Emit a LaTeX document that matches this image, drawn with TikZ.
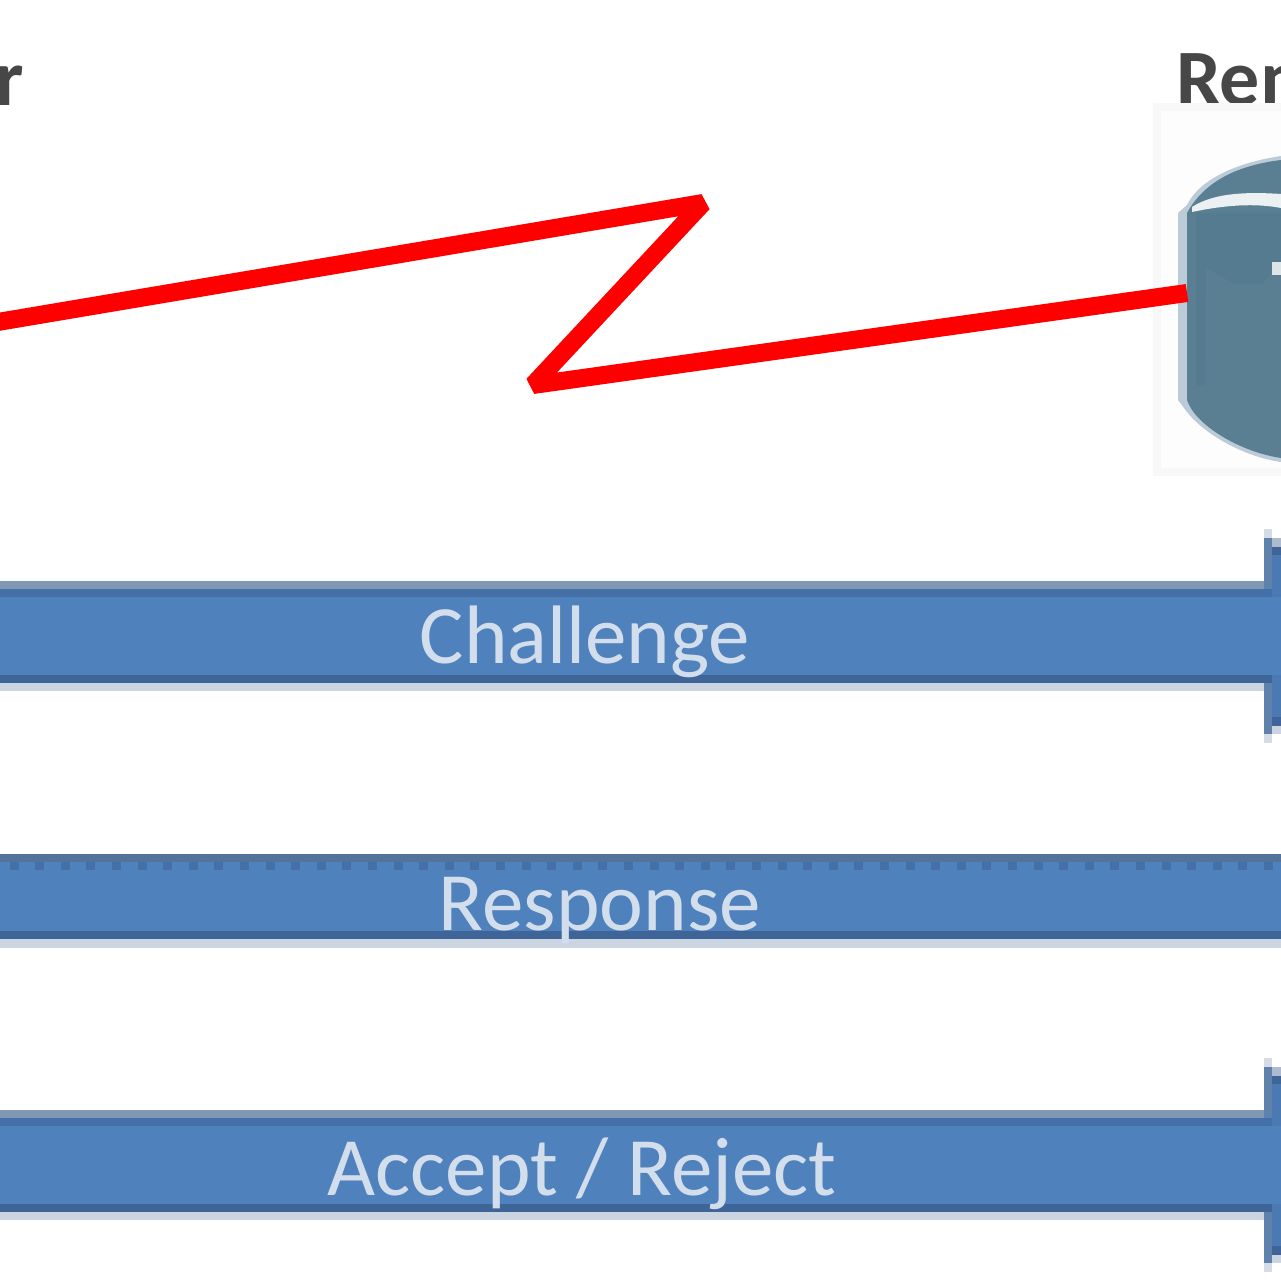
\documentclass[tikz,border=0pt]{standalone}
\usepackage{fontspec}
\setmainfont{Carlito}
\definecolor{barfill}{HTML}{4F81BD}
\definecolor{bardark}{HTML}{3F6598}
\definecolor{barmid}{HTML}{4570A7}
\definecolor{bargrey}{HTML}{8098B3}
\definecolor{barlight}{HTML}{CBD4E1}
\definecolor{headcol}{HTML}{5F82AC}
\definecolor{headfill}{HTML}{4B79B2}
\definecolor{headtop}{HTML}{AEBBCF}
\definecolor{headfaint}{HTML}{D5DCE6}
\definecolor{respedge}{HTML}{53739C}
\definecolor{drum}{HTML}{5B7F92}
\definecolor{drumdark}{HTML}{557B91}
\definecolor{drumedge}{HTML}{BCCBD8}
\definecolor{labeltxt}{HTML}{D3DEEC}
\definecolor{panelrim}{HTML}{F8F8F8}
\definecolor{panelin}{HTML}{FDFDFD}
\tikzset{
  flat/.style={inner sep=0pt,outer sep=0pt},
  barlabel/.style={flat,text=labeltxt,font=\fontsize{83}{83}\selectfont,anchor=base},
  headlabel/.style={flat,text=black!72,font=\bfseries\fontsize{80}{80}\selectfont,anchor=base west},
  wire/.style={draw=red,line width=18pt,line join=bevel},
}
\newcommand{\arrowbar}[1]{%
  \begin{scope}[shift={(0,#1)}]
    \fill[headfaint] (1264,-52) rectangle (1272,-43);
    \fill[headfaint] (1264,153) rectangle (1272,162);
    \fill[headtop] (1272,-43) rectangle (1281,-34);
    \fill[barlight] (1272,145) rectangle (1281,153);
    \fill[headfill] (1272,-26) rectangle (1281,136);
    \fill[bargrey] (0,0) rectangle (1264,8);
    \fill[barmid] (0,8) rectangle (1272,16);
    \fill[barfill] (0,16) rectangle (1281,94);
    \fill[bardark] (0,94) rectangle (1272,102);
    \fill[barlight] (0,102) rectangle (1264,110);
    \fill[headcol] (1264,-43) rectangle (1272,8);
    \fill[headcol] (1264,102) rectangle (1272,153);
    \fill[bardark] (1272,-34) rectangle (1281,-26);
    \fill[bardark] (1272,136) rectangle (1281,145);
  \end{scope}}
\begin{document}
\begin{tikzpicture}[x=1pt,y=-1pt]
\useasboundingbox (0,0) rectangle (1281,1281);
\clip (0,0) rectangle (1281,1281);
\fill[white] (0,0) rectangle (1281,1281);
% headings
\node[headlabel,anchor=base east] (lefthead) at (24,106) {r};
\node[headlabel] (righthead) at (1176,106) {Rem};
% router panel
\fill[panelrim] (1153,103) rectangle (1281,476);
\fill[panelin] (1161,111) rectangle (1281,468);
% drum
\fill[drumedge] (1178,400) -- (1187,412) .. controls (1205,435) and (1245,457) .. (1281,462)
  -- (1281,156) .. controls (1240,162) and (1200,178) .. (1187,205) -- (1178,213) -- cycle;
\fill[drum] (1187,400) .. controls (1195,425) and (1240,452) .. (1281,458)
  -- (1281,160) .. controls (1240,165) and (1205,180) .. (1187,213) -- cycle;
\fill[drumdark] (1196,213) -- (1281,213) -- (1281,262) -- (1262,284) -- (1235,284)
  -- (1206,268) -- (1205,385) -- (1196,385) -- cycle;
\fill[white!88!drum] (1192,207) .. controls (1215,192) and (1250,192) .. (1281,194)
  -- (1281,208) .. controls (1255,203) and (1225,205) .. (1192,212) -- cycle;
\fill[white!80!drum] (1272,262) rectangle (1281,275);
% wire
\coordinate (w0) at (-20,325);
\coordinate (w1) at (703,203);
\coordinate (w2) at (533,385);
\node[flat] (drumnode) at (1187,293) {};
\draw[wire] (w0) -- (w1) -- (w2) -- (drumnode.center);
% bars
\arrowbar{581}
\arrowbar{1110}
% response bar
\fill[barfill] (0,854) rectangle (1281,931);
\fill[respedge] (0,854) rectangle (1281,862);
\foreach \i in {0,...,49} {\fill[barmid] ({1264-25.6*\i},862) rectangle ++(9,8);}
\fill[bardark] (0,931) rectangle (1281,939);
\fill[barlight] (0,939) rectangle (1281,948);
% labels
\node[barlabel] (challenge) at (585,663) {Challenge};
\node[barlabel] (response) at (600,930) {Response};
\node[barlabel] (acceptreject) at (582,1195) {Accept / Reject};
\end{tikzpicture}
\end{document}
